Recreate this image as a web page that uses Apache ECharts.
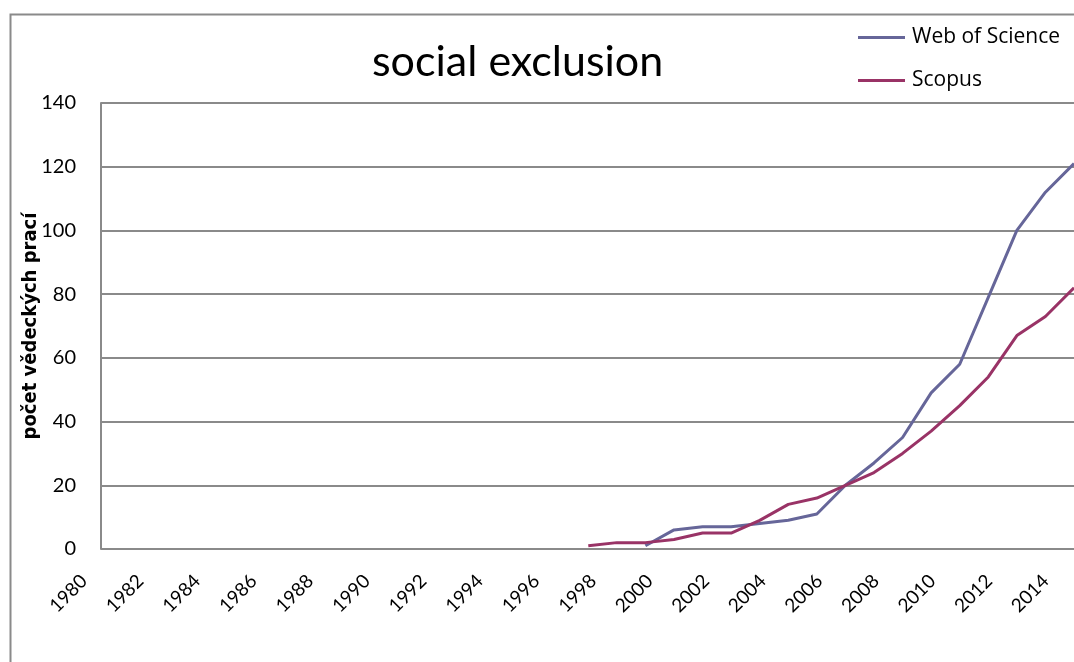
<!DOCTYPE html>
<html>
<head>
<meta charset="utf-8">
<script src="https://cdn.jsdelivr.net/npm/echarts@6/dist/echarts.min.js"></script>
<style>
  html, body { margin: 0; padding: 0; background: #ffffff; }
  #chart { width: 1074px; height: 662px; }
</style>
</head>
<body>
<div id="chart"></div>
<script>
// Publication counts per year for "social exclusion"
const years = [];
for (let y = 1980; y <= 2015; y++) years.push(String(y));

const webOfScience = [
  null, null, null, null, null, null, null, null, null, null,   // 1980-1989
  null, null, null, null, null, null, null, null, null, null,   // 1990-1999
  1, 6, 7, 7, 8, 9, 11, 20, 27, 35,                             // 2000-2009
  49, 58, 79, 100, 112, 121                                     // 2010-2015
];
const scopus = [
  null, null, null, null, null, null, null, null, null, null,   // 1980-1989
  null, null, null, null, null, null, null, null, 1, 2,         // 1990-1999
  2, 3, 5, 5, 9, 14, 16, 20, 24, 30,                            // 2000-2009
  37, 45, 54, 67, 73, 82                                        // 2010-2015
];
const yTicks = { min: 0, max: 140, interval: 20 };

const FONT = 'Lato, "Open Sans", sans-serif';
const LEGEND_FONT = '"Open Sans", Lato, sans-serif';
const NAME_FONT = '"Liberation Sans Narrow", "DejaVu Sans Condensed", sans-serif';
const STEP = 28.7;           // horizontal distance between consecutive years
const PLOT_TOP = 103;
const PLOT_H = 446;

const chart = echarts.init(document.getElementById('chart'), null, { renderer: 'canvas' });

chart.setOption({
  backgroundColor: '#ffffff',
  animation: false,
  title: {
    text: 'social exclusion',
    left: 367,
    top: 36,
    textStyle: { fontFamily: FONT, fontSize: 43, fontWeight: 'normal', color: '#000000' }
  },
  legend: {
    orient: 'vertical',
    left: 858,
    top: 27,
    padding: 0,
    icon: 'rect',
    itemWidth: 47,
    itemHeight: 3,
    itemGap: 22,
    textStyle: { fontFamily: LEGEND_FONT, fontSize: 21, color: '#000000', padding: [0, 0, 0, 2] },
    data: ['Web of Science', 'Scopus']
  },
  graphic: [
    // outer chart frame (left and top edges)
    { type: 'polyline', silent: true,
      shape: { points: [[10.5, 662], [10.5, 14.5], [1074, 14.5]] },
      style: { stroke: '#8a8a8a', lineWidth: 2, fill: null } }
  ],
  grid: [
    // grid 0: category scale for the data
    { left: 74, top: PLOT_TOP, width: 35 * STEP, height: PLOT_H },
    // grid 1: plot frame with value gridlines
    { left: 101, top: PLOT_TOP, right: -20, height: PLOT_H },
    // grid 2: year labels, set slightly right of the category centres
    { left: 84, top: PLOT_TOP, width: 35 * STEP, height: PLOT_H }
  ],
  xAxis: [
    {
      gridIndex: 0,
      type: 'category',
      data: years,
      boundaryGap: false,
      show: false
    },
    {
      gridIndex: 1,
      type: 'value',
      show: false
    },
    {
      gridIndex: 2,
      type: 'category',
      data: years,
      boundaryGap: false,
      axisLine: { show: false },
      axisTick: { show: false },
      splitLine: { show: false },
      axisLabel: {
        interval: 1,
        rotate: 45,
        margin: 29,
        fontFamily: FONT,
        fontSize: 19,
        color: '#000000'
      }
    }
  ],
  yAxis: [
    {
      gridIndex: 1,
      type: 'value',
      min: yTicks.min,
      max: yTicks.max,
      interval: yTicks.interval,
      name: 'počet vědeckých prací',
      nameLocation: 'middle',
      nameGap: 60,
      nameMoveOverlap: false,
      nameTextStyle: { fontFamily: NAME_FONT, fontSize: 20, fontWeight: 'bold', color: '#000000' },
      axisLine: { show: true, lineStyle: { color: '#8a8a8a', width: 2 } },
      axisTick: { show: false },
      axisLabel: { margin: 25, fontFamily: FONT, fontSize: 20, color: '#000000' },
      splitLine: { show: true, lineStyle: { color: '#8a8a8a', width: 2 } }
    },
    {
      gridIndex: 0,
      type: 'value',
      min: yTicks.min,
      max: yTicks.max,
      interval: yTicks.interval,
      show: false
    },
    {
      gridIndex: 2,
      type: 'value',
      min: yTicks.min,
      max: yTicks.max,
      show: false
    }
  ],
  series: [
    {
      name: 'Web of Science',
      type: 'line',
      xAxisIndex: 0,
      yAxisIndex: 1,
      data: webOfScience,
      showSymbol: false,
      symbol: 'none',
      lineStyle: { color: '#666699', width: 3 },
      itemStyle: { color: '#666699' }
    },
    {
      name: 'Scopus',
      type: 'line',
      xAxisIndex: 0,
      yAxisIndex: 1,
      data: scopus,
      showSymbol: false,
      symbol: 'none',
      lineStyle: { color: '#993366', width: 3 },
      itemStyle: { color: '#993366' }
    }
  ]
});
</script>
</body>
</html>
